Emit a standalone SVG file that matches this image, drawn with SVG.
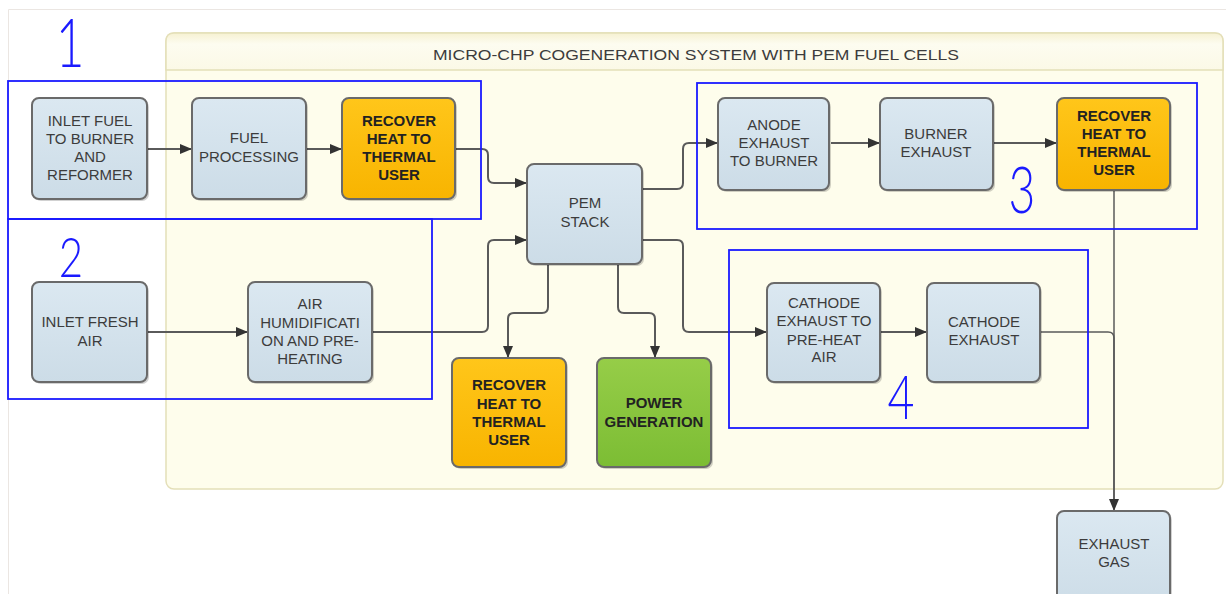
<svg xmlns="http://www.w3.org/2000/svg" width="1226" height="594" viewBox="0 0 1226 594">
<style>
.t{font-family:"Liberation Sans",Arial,sans-serif;font-size:15px;fill:#3c3c3c;text-anchor:middle}
.b{font-weight:bold;fill:#222}
.nb{fill:url(#gb);stroke:#6a6a6a;stroke-width:2}
.no{fill:url(#go);stroke:#6a6a6a;stroke-width:2}
.ng{fill:url(#gg);stroke:#6a6a6a;stroke-width:2}
.sh{fill:#000;opacity:0.18}
.c{fill:none;stroke:#5a5a5a;stroke-width:2}
.blue{fill:none;stroke:#1a1aff;stroke-width:1.8}
.num{font-family:Lato,"DejaVu Sans",sans-serif;font-weight:300;fill:#1a1aff;text-anchor:middle}
</style>
<defs>
<linearGradient id="gb" x1="0" y1="0" x2="0" y2="1"><stop offset="0" stop-color="#dbe8f1"/><stop offset="1" stop-color="#ccdce7"/></linearGradient>
<linearGradient id="go" x1="0" y1="0" x2="0" y2="1"><stop offset="0" stop-color="#ffc61a"/><stop offset="1" stop-color="#f8b400"/></linearGradient>
<linearGradient id="gg" x1="0" y1="0" x2="0" y2="1"><stop offset="0" stop-color="#96cd48"/><stop offset="1" stop-color="#7cbd34"/></linearGradient>
<linearGradient id="gh" x1="0" y1="0" x2="0" y2="1"><stop offset="0" stop-color="#f6f1d2"/><stop offset="0.3" stop-color="#fdfcf0"/><stop offset="1" stop-color="#fbf9e6"/></linearGradient>
<marker id="ar" markerUnits="userSpaceOnUse" markerWidth="13" markerHeight="12" refX="12" refY="5" orient="auto"><path d="M0,0 L12,5 L0,10 z" fill="#333"/></marker>
</defs>
<rect x="0" y="0" width="1226" height="594" fill="#fff"/>
<path d="M8.5,594 V9.5 H1226" fill="none" stroke="#ebe6e2" stroke-width="1"/>
<g id="container">
<rect x="166" y="33" width="1057" height="456" rx="8" fill="#fefdec" stroke="#e4dfb8" stroke-width="1.5"/>
<path d="M166,70 V41 Q166,33 174,33 H1215 Q1223,33 1223,41 V70 Z" fill="url(#gh)" stroke="#e4dfb8" stroke-width="1.5"/>
<text x="696" y="60" style="font-family:'Liberation Sans',Arial,sans-serif;font-size:15px;fill:#3c3c3c;text-anchor:middle" textLength="526" lengthAdjust="spacingAndGlyphs">MICRO-CHP COGENERATION SYSTEM WITH PEM FUEL CELLS</text>
</g>
<g id="connectors">
<path class="c" marker-end="url(#ar)" d="M147,149 H192"/>
<path class="c" marker-end="url(#ar)" d="M306,149 H342"/>
<path class="c" marker-end="url(#ar)" d="M455,149 H482 Q488,149 488,155 V177 Q488,183 494,183 H527"/>
<path class="c" marker-end="url(#ar)" d="M372,332 H482 Q488,332 488,326 V246 Q488,240 494,240 H527"/>
<path class="c" marker-end="url(#ar)" d="M147,332 H248"/>
<path class="c" marker-end="url(#ar)" d="M548,264 V307 Q548,313 542,313 H514 Q508,313 508,319 V358"/>
<path class="c" marker-end="url(#ar)" d="M618,264 V307 Q618,313 624,313 H649 Q655,313 655,319 V358"/>
<path class="c" marker-end="url(#ar)" d="M642,189 H677 Q683,189 683,183 V149 Q683,143 689,143 H718"/>
<path class="c" marker-end="url(#ar)" d="M642,240 H677 Q683,240 683,246 V326 Q683,332 689,332 H767"/>
<path class="c" marker-end="url(#ar)" d="M831,143 H880"/>
<path class="c" marker-end="url(#ar)" d="M993,143 H1057"/>
<path class="c" marker-end="url(#ar)" d="M881,332 H927"/>
<path class="c" style="stroke-width:1.6" d="M1040,332 H1108 Q1114,332 1114,338 V500"/>
<path class="c" style="stroke-width:1.5" marker-end="url(#ar)" d="M1114,190 V511"/>
</g>
<g id="n_inlet_fuel">
<rect class="sh" x="34" y="100" width="115" height="101" rx="7"/>
<rect class="nb" x="32" y="98" width="115" height="101" rx="7"/>
<text class="t" x="90" y="126">INLET FUEL</text><text class="t" x="90" y="144">TO BURNER</text><text class="t" x="90" y="162">AND</text><text class="t" x="90" y="180">REFORMER</text>
</g>
<g id="n_fuel_processing">
<rect class="sh" x="194" y="100" width="114" height="101" rx="7"/>
<rect class="nb" x="192" y="98" width="114" height="101" rx="7"/>
<text class="t" x="249" y="143">FUEL</text><text class="t" x="249" y="162">PROCESSING</text>
</g>
<g id="n_recover1">
<rect class="sh" x="344" y="100" width="113" height="101" rx="7"/>
<rect class="no" x="342" y="98" width="113" height="101" rx="7"/>
<text class="t b" x="399" y="126">RECOVER</text><text class="t b" x="399" y="144">HEAT TO</text><text class="t b" x="399" y="162">THERMAL</text><text class="t b" x="399" y="180">USER</text>
</g>
<g id="n_inlet_air">
<rect class="sh" x="34" y="284" width="115" height="100" rx="7"/>
<rect class="nb" x="32" y="282" width="115" height="100" rx="7"/>
<text class="t" x="90" y="327">INLET FRESH</text><text class="t" x="90" y="346">AIR</text>
</g>
<g id="n_air_humid">
<rect class="sh" x="250" y="284" width="124" height="100" rx="7"/>
<rect class="nb" x="248" y="282" width="124" height="100" rx="7"/>
<text class="t" x="310" y="309">AIR</text><text class="t" x="310" y="328">HUMIDIFICATI</text><text class="t" x="310" y="346">ON AND PRE-</text><text class="t" x="310" y="364">HEATING</text>
</g>
<g id="n_pem">
<rect class="sh" x="529" y="166" width="115" height="100" rx="7"/>
<rect class="nb" x="527" y="164" width="115" height="100" rx="7"/>
<text class="t" x="585" y="208">PEM</text><text class="t" x="585" y="227">STACK</text>
</g>
<g id="n_recover2">
<rect class="sh" x="454" y="360" width="114" height="109" rx="7"/>
<rect class="no" x="452" y="358" width="114" height="109" rx="7"/>
<text class="t b" x="509" y="390">RECOVER</text><text class="t b" x="509" y="409">HEAT TO</text><text class="t b" x="509" y="427">THERMAL</text><text class="t b" x="509" y="445">USER</text>
</g>
<g id="n_power">
<rect class="sh" x="599" y="360" width="114" height="109" rx="7"/>
<rect class="ng" x="597" y="358" width="114" height="109" rx="7"/>
<text class="t b" x="654" y="408">POWER</text><text class="t b" x="654" y="427">GENERATION</text>
</g>
<g id="n_anode">
<rect class="sh" x="720" y="100" width="111" height="92" rx="7"/>
<rect class="nb" x="718" y="98" width="111" height="92" rx="7"/>
<text class="t" x="774" y="130">ANODE</text><text class="t" x="774" y="148">EXHAUST</text><text class="t" x="774" y="166">TO BURNER</text>
</g>
<g id="n_burner">
<rect class="sh" x="882" y="100" width="113" height="92" rx="7"/>
<rect class="nb" x="880" y="98" width="113" height="92" rx="7"/>
<text class="t" x="936" y="139">BURNER</text><text class="t" x="936" y="157">EXHAUST</text>
</g>
<g id="n_recover3">
<rect class="sh" x="1059" y="100" width="113" height="92" rx="7"/>
<rect class="no" x="1057" y="98" width="113" height="92" rx="7"/>
<text class="t b" x="1114" y="121">RECOVER</text><text class="t b" x="1114" y="139">HEAT TO</text><text class="t b" x="1114" y="157">THERMAL</text><text class="t b" x="1114" y="175">USER</text>
</g>
<g id="n_cathode_preheat">
<rect class="sh" x="769" y="285" width="113" height="99" rx="7"/>
<rect class="nb" x="767" y="283" width="113" height="99" rx="7"/>
<text class="t" x="824" y="308">CATHODE</text><text class="t" x="824" y="326">EXHAUST TO</text><text class="t" x="824" y="345">PRE-HEAT</text><text class="t" x="824" y="362">AIR</text>
</g>
<g id="n_cathode_exhaust">
<rect class="sh" x="929" y="285" width="113" height="99" rx="7"/>
<rect class="nb" x="927" y="283" width="113" height="99" rx="7"/>
<text class="t" x="984" y="327">CATHODE</text><text class="t" x="984" y="345">EXHAUST</text>
</g>
<g id="n_exhaust_gas">
<rect class="sh" x="1059" y="513" width="113" height="100" rx="7"/>
<rect class="nb" x="1057" y="511" width="113" height="100" rx="7"/>
<text class="t" x="1114" y="549">EXHAUST</text><text class="t" x="1114" y="567">GAS</text>
</g>
<g id="annotations">
<rect class="blue" x="8" y="81" width="473" height="138"/>
<rect class="blue" x="8" y="219" width="424" height="180"/>
<rect class="blue" x="697" y="83" width="500" height="146"/>
<rect class="blue" x="729" y="250" width="359" height="178"/>
<text class="num" transform="translate(70,67) scale(0.75,1)" font-size="66">1</text>
<text class="num" transform="translate(71,277) scale(0.75,1)" font-size="56">2</text>
<text class="num" transform="translate(1022,213) scale(0.7,1)" font-size="66">3</text>
<text class="num" transform="translate(901,419) scale(0.75,1)" font-size="62">4</text>
</g>
</svg>
